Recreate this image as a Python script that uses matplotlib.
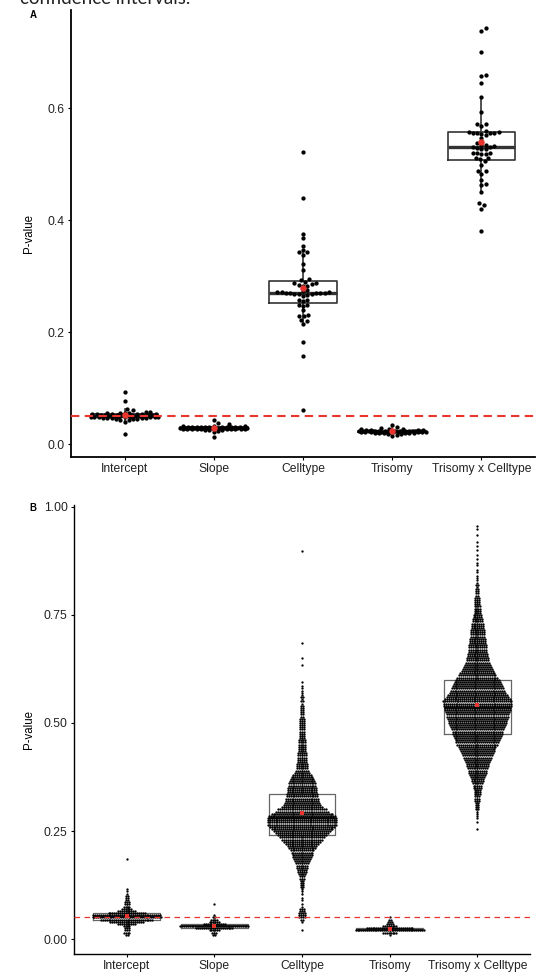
import numpy as np
import matplotlib.pyplot as plt

plt.rcParams['font.family'] = ['Liberation Sans', 'DejaVu Sans']

groups = ["Intercept", "Slope", "Celltype", "Trisomy", "Trisomy x Celltype"]

# ---- panel A: p-values of 50 simulations per term ----
intercept_a = [0.093, 0.077, 0.062, 0.060, 0.058, 0.057, 0.056, 0.056, 0.055, 0.055,
               0.054, 0.054, 0.054, 0.053, 0.053, 0.053, 0.052, 0.052, 0.052, 0.052,
               0.051, 0.051, 0.051, 0.051, 0.050, 0.050, 0.050, 0.050, 0.050, 0.049,
               0.049, 0.049, 0.049, 0.049, 0.048, 0.048, 0.048, 0.048, 0.047, 0.047,
               0.047, 0.046, 0.046, 0.045, 0.045, 0.044, 0.043, 0.042, 0.040, 0.017]
slope_a = [0.043, 0.038, 0.035, 0.033, 0.032, 0.032, 0.031, 0.031, 0.031, 0.031,
           0.030, 0.030, 0.030, 0.030, 0.030, 0.030, 0.030,
           0.029, 0.029, 0.029, 0.029, 0.029, 0.029, 0.029, 0.029, 0.029,
           0.028, 0.028, 0.028, 0.028, 0.028, 0.028, 0.028, 0.028,
           0.027, 0.027, 0.027, 0.027, 0.027, 0.027,
           0.026, 0.026, 0.026, 0.026, 0.025, 0.025, 0.025, 0.024, 0.022, 0.013]
celltype_a = [0.521, 0.439, 0.375, 0.367, 0.354, 0.346, 0.343, 0.342, 0.338, 0.321, 0.311,
              0.295, 0.293, 0.290, 0.288, 0.288, 0.285, 0.284, 0.283, 0.283,
              0.275, 0.273, 0.272, 0.271, 0.271, 0.270, 0.270, 0.270, 0.269, 0.269,
              0.268, 0.268, 0.267, 0.266, 0.265,
              0.257, 0.257, 0.256, 0.249, 0.248, 0.247, 0.239,
              0.230, 0.229, 0.228, 0.222, 0.220, 0.215,
              0.183, 0.157, 0.060]
trisomy_a = [0.034, 0.030, 0.028, 0.027, 0.026, 0.026, 0.025, 0.025, 0.025, 0.025,
             0.024, 0.024, 0.024, 0.024, 0.024, 0.024, 0.024,
             0.023, 0.023, 0.023, 0.023, 0.023, 0.023, 0.023, 0.023, 0.023,
             0.022, 0.022, 0.022, 0.022, 0.022, 0.022, 0.022, 0.022,
             0.021, 0.021, 0.021, 0.021, 0.021, 0.021,
             0.020, 0.020, 0.020, 0.020, 0.019, 0.019, 0.018, 0.017, 0.016, 0.014]
tri_cell_a = [0.742, 0.738, 0.700, 0.659, 0.658, 0.645, 0.620, 0.593, 0.571, 0.571, 0.568,
              0.559, 0.557, 0.557, 0.556, 0.556, 0.555, 0.555, 0.554, 0.551, 0.546,
              0.537, 0.534, 0.534, 0.532, 0.531, 0.530, 0.529, 0.526, 0.526,
              0.520, 0.520, 0.520, 0.518, 0.518, 0.511, 0.511, 0.509,
              0.505, 0.499, 0.488, 0.487, 0.482, 0.472, 0.465, 0.463, 0.450,
              0.431, 0.426, 0.419, 0.381]

# ---- panel B: many simulations, read as counts per 0.005-wide p-value row ----
row_step = 0.005
intercept_b_start = 0.010
intercept_b_counts = [2, 4, 3, 3, 4, 10, 18, 28, 37, 36, 20, 10, 6, 4, 3, 3, 2, 2, 2, 1, 1, 1]
intercept_b_extra = [0.186]
slope_b_start = 0.010
slope_b_counts = [2, 3, 6, 20, 37, 12, 6, 4, 2, 1]
slope_b_extra = [0.081]
celltype_b_start = 0.020
celltype_b_counts = [1, 0, 0, 0, 1, 2,
                     4, 4, 4, 3, 3, 1, 1, 0, 1, 1,
                     0, 1, 1, 1, 2, 2, 2, 2, 3, 3,
                     4, 5, 5, 6, 6, 7, 8, 9, 10, 11,
                     12, 13, 15, 16, 18, 20, 22, 24, 26, 28,
                     30, 33, 35, 37, 37, 37, 37, 36, 33, 28,
                     26, 22, 20, 19, 18, 18, 17, 17, 16, 16,
                     16, 15, 15, 14, 13, 12, 10, 8, 7, 6,
                     6, 6, 5, 5, 5, 5, 5, 4, 4, 4,
                     4, 4, 4, 3, 3, 3, 3, 3, 3, 3,
                     3, 3, 3, 2, 2, 2, 2, 2, 2, 1,
                     2, 1, 2, 1, 1, 1, 1, 1, 0, 1,
                     0, 0, 0, 0, 0, 0, 0, 1, 0, 0,
                     1, 0, 0, 0, 0, 0, 0, 1, 0, 0]
celltype_b_extra = [0.898]
trisomy_b_start = 0.010
trisomy_b_counts = [1, 8, 37, 25, 8, 4, 3, 2, 1]
trisomy_b_extra = []
tri_cell_b_start = 0.255
tri_cell_b_counts = [1, 0, 0, 1, 0, 1, 1, 1, 1, 2,
                     2, 2, 2, 3, 3, 3, 4, 4, 4, 5,
                     5, 6, 7, 7, 8, 9, 10, 10, 11, 12,
                     12, 13, 14, 15, 16, 17, 18, 19, 20, 22,
                     23, 24, 25, 26, 27, 27, 28, 29, 30, 31,
                     31, 32, 33, 33, 34, 35, 35, 36, 36, 37,
                     35, 33, 32, 30, 29, 28, 27, 26, 25, 24,
                     22, 20, 19, 17, 16, 15, 14, 13, 12, 12,
                     11, 11, 10, 10, 10, 10, 9, 9, 9, 8,
                     8, 8, 8, 7, 7, 7, 6, 6, 5, 5,
                     4, 4, 4, 4, 3, 3, 3, 3, 2, 2,
                     2, 2, 1, 2, 1, 1, 1, 1, 0, 1,
                     1, 0, 1, 1, 0, 1, 0, 1, 0, 1,
                     0, 1, 0, 1, 0, 0, 1, 0, 0, 1,
                     1]
tri_cell_b_extra = []

W, H = 538, 977
red = "#e8352e"
fig = plt.figure(figsize=(W / 100, H / 100), dpi=100)
axA = fig.add_axes([71 / W, 1 - 457 / H, 464 / W, 447 / H])
axB = fig.add_axes([74 / W, 1 - 954 / H, 456 / W, 449 / H])


def swarm(values, xscale, yscale, size, half_width):
    # simple beeswarm in pixel space, offsets kept within +-half_width
    vals = np.asarray(values, dtype=float)
    ys = vals * yscale
    xs = np.zeros(len(vals))
    steps = np.arange(size / 4, half_width + 1e-9, size / 4)
    cands = np.concatenate([[0.0], np.column_stack([steps, -steps]).ravel()])
    done = []
    for i in np.argsort(vals):
        if done:
            dist = np.hypot(cands[:, None] - xs[done][None, :], ys[i] - ys[done][None, :]).min(axis=1)
            ok = np.nonzero(dist >= size)[0]
            xs[i] = cands[ok[0]] if len(ok) else cands[np.argmax(dist)]
        done.append(i)
    return xs / xscale


def rows(start, counts, extra, spacing, maxw):
    xs, ys = [], []
    for k, n in enumerate(counts):
        if n == 0:
            continue
        d = min(spacing, maxw / n)
        xs += list((np.arange(n) - (n - 1) / 2) * d)
        ys += [start + k * row_step] * n
    xs += [0.0] * len(extra)
    ys += list(extra)
    return np.array(xs), np.array(ys)


def style(ax, lw):
    for s in ["top", "right"]:
        ax.spines[s].set_visible(False)
    for s in ["left", "bottom"]:
        ax.spines[s].set_linewidth(lw)
    ax.tick_params(length=2.4, width=0.8, labelsize=8.7, pad=2.2, colors="black",
                   labelcolor="#222222")
    ax.set_xlim(0.4, 5.6)
    ax.set_xticks(range(1, 6))
    ax.set_xticklabels(groups)
    ax.set_ylabel("P-value", fontsize=8.3)


# ---------- panel A ----------
data_a = [intercept_a, slope_a, celltype_a, trisomy_a, tri_cell_a]
axA.set_ylim(-0.0232, 0.775)
axA.boxplot(data_a, positions=range(1, 6), widths=0.76, showfliers=False, showcaps=False,
            manage_ticks=False, zorder=2,
            boxprops=dict(color="#333333", lw=1.2),
            whiskerprops=dict(color="#333333", lw=1.2),
            medianprops=dict(color="#333333", lw=2.4))
xpx = 464 / 5.2
ypx = 447 / (0.775 + 0.0232)
for i, vals in enumerate(data_a):
    off = swarm(vals, xpx, ypx, 4.3, 34)
    axA.scatter(i + 1 + off, vals, s=9.5, color="black", lw=0, zorder=3)
    axA.scatter(i + 1, np.mean(vals), s=22, color=red, lw=0, zorder=4)
axA.axhline(0.05, color=red, lw=1.5, dashes=(4, 2.6), zorder=5)
axA.set_yticks([0.0, 0.2, 0.4, 0.6])
axA.set_yticklabels(["0.0", "0.2", "0.4", "0.6"])
style(axA, 1.3)
axA.yaxis.set_label_coords(-0.078, 0.5)

# ---------- panel B ----------
sets_b = [(intercept_b_start, intercept_b_counts, intercept_b_extra),
          (slope_b_start, slope_b_counts, slope_b_extra),
          (celltype_b_start, celltype_b_counts, celltype_b_extra),
          (trisomy_b_start, trisomy_b_counts, trisomy_b_extra),
          (tri_cell_b_start, tri_cell_b_counts, tri_cell_b_extra)]
axB.set_ylim(-0.0347, 1.0046)
xpx_b = 456 / 5.2
data_b = []
for i, (st, cn, ex) in enumerate(sets_b):
    xs, ys = rows(st, cn, ex, 1.9 / xpx_b, 70 / xpx_b)
    data_b.append(ys)
    axB.scatter(i + 1 + xs, ys, s=2.8, color="black", lw=0, zorder=3)
    axB.scatter(i + 1, np.mean(ys), s=6, color=red, marker="s", lw=0, zorder=4)
axB.boxplot(data_b, positions=range(1, 6), widths=0.76, showfliers=False, showcaps=False,
            manage_ticks=False, zorder=2,
            boxprops=dict(color="#666666", lw=0.9),
            whiskerprops=dict(color="#666666", lw=0.9),
            medianprops=dict(color="#333333", lw=1.6))
axB.axhline(0.05, color=red, lw=0.9, dashes=(4.5, 3.5), zorder=5)
axB.set_yticks([0.0, 0.25, 0.5, 0.75, 1.0])
axB.set_yticklabels(["0.00", "0.25", "0.50", "0.75", "1.00"])
style(axB, 1.0)
axB.yaxis.set_label_coords(-0.0855, 0.5)

# panel letters and the cut-off caption line above
fig.text(33 / W, 1 - 15 / H, "A", fontsize=7, fontweight="bold", ha="center", va="center")
fig.text(33 / W, 1 - 508 / H, "B", fontsize=7, fontweight="bold", ha="center", va="center")
fig.text(20 / W, 1 - 4 / H, "confidence intervals.", fontsize=13.5, family="Lato",
         color="#222222", va="baseline", ha="left")

fig.savefig("out.png", dpi=100)
